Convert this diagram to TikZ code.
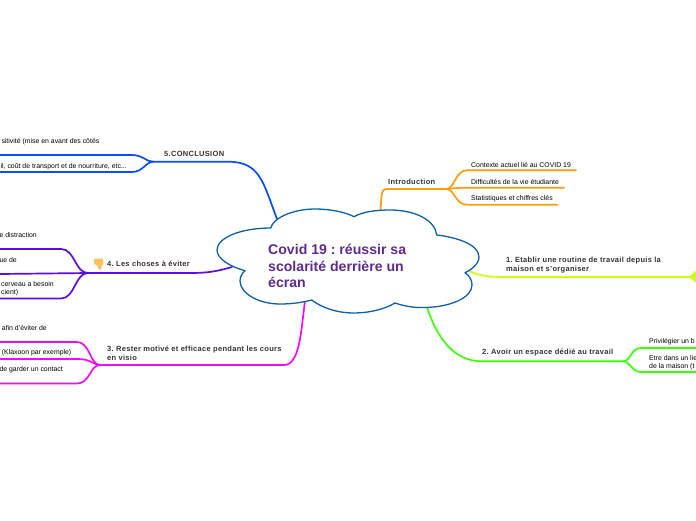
\documentclass[tikz,border=0pt]{standalone}
\usepackage{fontspec}
\setmainfont{Liberation Sans}
\frenchspacing
\definecolor{cloudblue}{HTML}{0F5FA8}
\definecolor{titlepurple}{HTML}{5F2C8E}
\definecolor{orangeb}{HTML}{FF9D0A}
\definecolor{limeb}{HTML}{CCFF0A}
\definecolor{greenb}{HTML}{3CFF0A}
\definecolor{magb}{HTML}{F00AF5}
\definecolor{violetb}{HTML}{5A0AF0}
\definecolor{blueb}{HTML}{0A4CF5}
\definecolor{txt}{HTML}{333333}
\definecolor{thumbc}{HTML}{FCC35A}
\tikzset{
 branch/.style={line width=1.7pt,line cap=round},
 sub/.style={font=\fontsize{6.9}{8.4}\selectfont,text=black,inner sep=0pt,align=left},
 head/.style={font=\fontsize{7.5}{9}\selectfont\bfseries\addfontfeatures{LetterSpace=4},text=txt,inner sep=0pt,align=left,anchor=west},
}
\begin{document}
\begin{tikzpicture}[x=1pt,y=-1pt]
\useasboundingbox (0,0) rectangle (696,520);
\clip (0,0) rectangle (696,520);
% hubs
\coordinate (cOr) at (380.5,211);
\coordinate (cLi) at (470,271.5);
\coordinate (cGr) at (427,307);
\coordinate (cMa) at (305,301);
\coordinate (cVi) at (232,267);
\coordinate (cBl) at (277,219);
\coordinate (hOr) at (442,189);
\coordinate (hGr) at (623,361.3);
\coordinate (hMa) at (100,365);
\coordinate (hVi) at (88,273);
\coordinate (hBl) at (153,161.7);
% orange
\draw[branch,orangeb] (cOr) .. controls (381.5,197) and (381,189) .. (386,189) -- (hOr);
\draw[branch,orangeb] (hOr) -- (446,189) .. controls (455,189) and (455,170.3) .. (467,170.3) -- (576,170.3);
\draw[branch,orangeb] (hOr) -- (446,189) .. controls (452,188.5) and (458,187.7) .. (468,187.7) -- (564,187.7);
\draw[branch,orangeb] (hOr) -- (446,189) .. controls (455,189) and (455,204.7) .. (467,204.7) -- (557.5,204.7);
% lime
\draw[branch,limeb] (cLi) .. controls (480,276) and (490,277) .. (505,277) -- (692,277);
\fill[limeb] (689,277) -- (696,270.7) -- (696,282.7) -- cycle;
% green
\draw[branch,greenb] (cGr) .. controls (436,335) and (452,361.3) .. (482,361.3) -- (hGr);
\draw[branch,greenb] (hGr) .. controls (631,361) and (631,348) .. (641,348) -- (696,348);
\draw[branch,greenb] (hGr) .. controls (631,361.5) and (631,372) .. (641,372) -- (696,372);
% magenta
\draw[branch,magb] (cMa) .. controls (301,330) and (300,365) .. (284,365) -- (hMa);
\draw[branch,magb] (hMa) .. controls (90,365) and (90,342) .. (77,342) -- (0,342);
\draw[branch,magb] (hMa) .. controls (92,364) and (90,359) .. (78,359) -- (0,359);
\draw[branch,magb] (hMa) .. controls (90,365) and (90,383.5) .. (77,383.5) -- (0,383.5);
% violet
\draw[branch,violetb] (cVi) .. controls (215,272) and (205,273) .. (190,273) -- (hVi);
\draw[branch,violetb] (hVi) .. controls (75,273) and (75,249) .. (61,249) -- (0,249);
\draw[branch,violetb] (hVi) -- (0,274);
\draw[branch,violetb] (hVi) .. controls (75,273) and (75,298.5) .. (61,298.5) -- (0,298.5);
% blue
\draw[branch,blueb] (cBl) .. controls (263,182) and (260,161.7) .. (228,161.7) -- (hBl);
\draw[branch,blueb] (hBl) .. controls (146,161.7) and (143,155) .. (132,155) -- (0,155);
\draw[branch,blueb] (hBl) .. controls (146,161.7) and (143,172) .. (132,172) -- (0,172);
% cloud
\draw[line width=1.3pt,cloudblue,fill=white,line join=round] (270.7,228)
 .. controls (273,218) and (293,209) .. (315,209)
 .. controls (330,209) and (345,212) .. (354,216.7)
 .. controls (362,212) and (375,210) .. (390,210)
 .. controls (415,210) and (435,220) .. (436.7,235)
 .. controls (455,237) and (479,244) .. (479,257)
 .. controls (479,264) and (471,270) .. (465,272.7)
 .. controls (470,276) and (472,281) .. (472,285)
 .. controls (472,298) and (450,307) .. (425,307.5)
 .. controls (414,308) and (404,306) .. (395,303)
 .. controls (385,309) and (370,313) .. (353,313)
 .. controls (338,313) and (322,308) .. (311.7,300)
 .. controls (300,303) and (290,304) .. (280,304)
 .. controls (258,304) and (240,293) .. (240,281)
 .. controls (240,277) and (242,273) .. (245,270.7)
 .. controls (228,266) and (217,258) .. (217,250)
 .. controls (217,238) and (240,228) .. (270.7,228) -- cycle;
\node[font=\fontsize{14.1}{16.6}\selectfont\bfseries,text=titlepurple,inner sep=0pt,align=left,anchor=north west] (title) at (268,244) {Covid 19 : réussir sa\\scolarité derrière un\\écran};
% headings
\node[head] (n0) at (388,182) {Introduction};
\node[head] (n1) at (506,265) {1. Etablir une routine de travail depuis la\\maison et s'organiser};
\node[head] (n2) at (482,353) {2. Avoir un espace dédié au travail};
\node[head] (n3) at (107,353) {3. Rester motivé et efficace pendant les cours\\en visio};
\node[head] (n4) at (107,263.5) {4. Les choses à éviter};
\node[head] (n5) at (164,153.5) {5.CONCLUSION};
% subs
\node[sub,anchor=west] (a1) at (471,164.5) {Contexte actuel lié au COVID 19};
\node[sub,anchor=west] (a2) at (471,181.5) {Difficultés de la vie étudiante};
\node[sub,anchor=west] (a3) at (471,198.8) {Statistiques et chiffres clés};
\node[sub,anchor=west] (g1) at (649,341.8) {Privilégier un b};
\node[sub,anchor=north west] (g2) at (649,355) {Etre dans un lie\\de la maison (t};
\node[sub,anchor=east] (b1) at (99.5,142) {sitivité (mise en avant des côtés};
\node[sub,anchor=east] (b2) at (127,167) {il, coût de transport et de nourriture, etc...};
\node[sub,anchor=east] (v1) at (37,235) {e distraction};
\node[sub,anchor=east] (v2) at (17,259.8) {ue de};
\node[sub,anchor=north west] (v3) at (1,280.8) {cerveau a besoin\\cient)};
\node[sub,anchor=east] (m1) at (47,327.8) {afin d'éviter de};
\node[sub,anchor=east] (m2) at (71.5,352.8) {(Klaxoon par exemple)};
\node[sub,anchor=east] (m3) at (63,369.8) {de garder un contact};
% thumb
\fill[thumbc,rounded corners=1pt] (94,258.5) -- (103,258.5) -- (103.5,264) -- (101.5,266) -- (101,270) -- (99,270) -- (97.5,265.5) -- (94,264) -- cycle;
\end{tikzpicture}
\end{document}
